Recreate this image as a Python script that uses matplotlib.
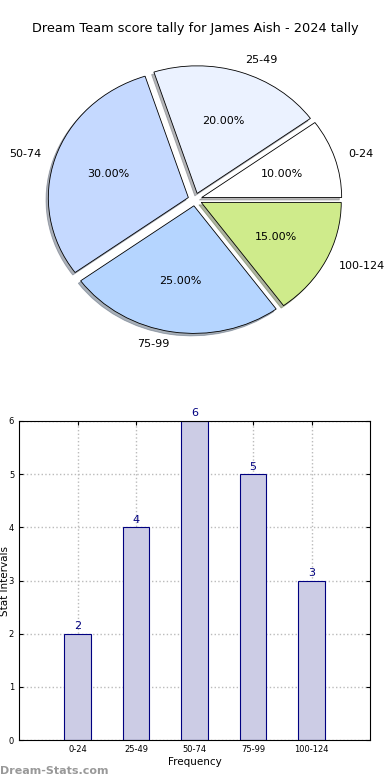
import numpy as np
import matplotlib
matplotlib.use('Agg')
import matplotlib.pyplot as plt

# data
labels = ['0-24', '25-49', '50-74', '75-99', '100-124']
counts = [2, 4, 6, 5, 3]
pie_colors = ['#FFFFFF', '#EBF2FF', '#C5D9FF', '#B5D5FF', '#CFEB8B']
explode = [0.05, 0.05, 0.05, 0.05, 0.05]

fig = plt.figure(figsize=(3.9, 7.8), dpi=100)

# pie chart
ax1 = fig.add_axes([20 / 390, 421 / 780, 350 / 390, 319 / 780])
wedges, texts, autotexts = ax1.pie(counts, labels=labels, colors=pie_colors,
                                   explode=explode, autopct='%1.2f%%',
                                   shadow={'ox': -0.012, 'oy': -0.014, 'shade': 0.55},
                                   startangle=0,
                                   wedgeprops={'edgecolor': 'black', 'linewidth': 0.6},
                                   textprops={'fontsize': 8})
ax1.set_aspect('auto')
ax1.set_xlim(-1.25, 1.25)
ax1.set_ylim(-1.25, 1.25)
ax1.set_title('Dream Team score tally for James Aish - 2024 tally', fontsize=9.3, pad=6)

# bar chart
ax2 = fig.add_axes([19 / 390, 40 / 780, 351 / 390, 319 / 780])
x = np.arange(len(labels))
ax2.bar(x, counts, width=0.45, color='#CCCCE5', edgecolor='navy', linewidth=0.8, zorder=2)
for xi, c in zip(x, counts):
    ax2.text(xi, c + 0.05, str(c), ha='center', va='bottom', color='navy', fontsize=8)
ax2.set_xlim(-1, 5)
ax2.set_ylim(0, 6)
ax2.set_xticks(x)
ax2.set_xticklabels(labels)
ax2.tick_params(labelsize=6, direction='in', top=True, right=True, length=3)
ax2.grid(True, linestyle=':', color='#BBBBBB', linewidth=1.0, zorder=0)
ax2.set_axisbelow(True)
ax2.set_xlabel('Frequency', fontsize=7.5, labelpad=2)
ax2.set_ylabel('Stat Intervals', fontsize=7.5)
ax2.yaxis.set_label_coords(-0.026, 0.5)

fig.text(0.0, 0.005, 'Dream-Stats.com', fontsize=8, color='#999999', ha='left', va='bottom',
         fontweight='bold')

fig.savefig('out.png', dpi=100)
